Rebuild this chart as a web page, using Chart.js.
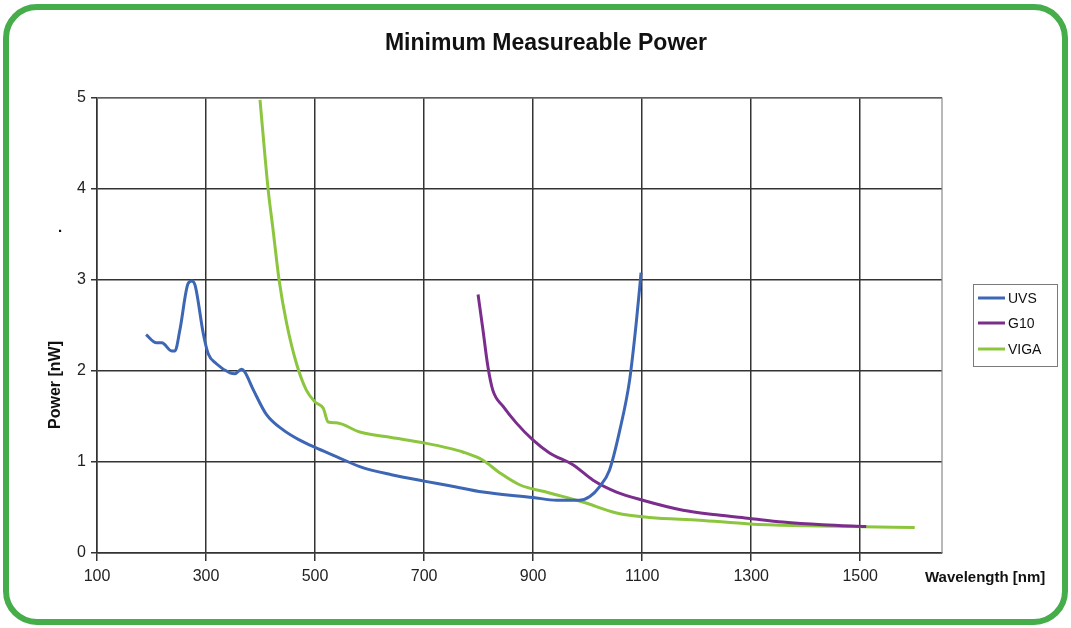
<!DOCTYPE html>
<html>
<head>
<meta charset="utf-8">
<script src="https://cdn.jsdelivr.net/npm/chart.js@4/dist/chart.umd.min.js"></script>
<style>
  html, body { margin: 0; padding: 0; background: #ffffff; }
  #wrap { position: relative; width: 1071px; height: 628px; }
  #c { position: absolute; left: 0; top: 0; }
  #frame { position: absolute; left: 3px; top: 4px; width: 1053px; height: 609px;
           border: 6px solid #45ad4a; border-radius: 34px; pointer-events: none; }
</style>
</head>
<body>
<div id="wrap">
  <canvas id="c" width="1071" height="628"></canvas>
  <div id="frame"></div>
</div>
<script>
// ---- data ----
const seriesNames = ["UVS", "G10", "VIGA"];
const xTicks = [100, 300, 500, 700, 900, 1100, 1300, 1500];
const yTicks = [0, 1, 2, 3, 4, 5];

const uvsX = [190, 209, 219, 237, 243, 252, 267, 274, 280, 295, 304, 319, 344, 353, 365, 371, 387, 411, 442, 472, 500, 539, 582, 640, 700, 747, 808, 900, 943, 985, 1004, 1022, 1040, 1059, 1077, 1089, 1098];
const uvsY = [2.40, 2.31, 2.31, 2.22, 2.22, 2.45, 2.96, 2.99, 2.94, 2.41, 2.19, 2.08, 1.98, 1.97, 2.02, 1.99, 1.79, 1.52, 1.35, 1.24, 1.16, 1.06, 0.95, 0.86, 0.79, 0.74, 0.67, 0.61, 0.58, 0.58, 0.62, 0.73, 0.91, 1.35, 1.90, 2.52, 3.08];

const g10X = [799, 808, 817, 826, 845, 869, 900, 930, 973, 1010, 1053, 1101, 1175, 1236, 1297, 1358, 1431, 1511];
const g10Y = [2.84, 2.45, 2.05, 1.79, 1.61, 1.43, 1.24, 1.10, 0.97, 0.80, 0.67, 0.58, 0.47, 0.42, 0.38, 0.34, 0.31, 0.29];

const vigaX = [399, 414, 423, 434, 448, 466, 484, 500, 515, 524, 539, 582, 640, 700, 747, 771, 808, 839, 875, 930, 991, 1053, 1114, 1205, 1297, 1400, 1480, 1600];
const vigaY = [4.98, 3.99, 3.55, 3.00, 2.52, 2.08, 1.79, 1.66, 1.59, 1.44, 1.43, 1.33, 1.27, 1.21, 1.15, 1.11, 1.02, 0.88, 0.75, 0.66, 0.56, 0.44, 0.39, 0.36, 0.32, 0.30, 0.29, 0.28];

const seriesColors = ["#3d66b4", "#7b2d8e", "#8cc63f"];

function pts(xs, ys) { return xs.map((x, i) => ({ x: x, y: ys[i] })); }

const FONT = "'Liberation Sans', Arial, sans-serif";

const decor = {
  id: "decor",
  afterDraw(chart) {
    const ctx = chart.ctx;
    const a = chart.chartArea;
    ctx.save();
    // right/top frame of plot area
    ctx.strokeStyle = "#8a8a8a";
    ctx.lineWidth = 1.2;
    ctx.beginPath();
    ctx.moveTo(a.left, a.top);
    ctx.lineTo(a.right, a.top);
    ctx.lineTo(a.right, a.bottom);
    ctx.stroke();

    // title
    ctx.fillStyle = "#111";
    ctx.font = "bold 23px " + FONT;
    ctx.textAlign = "center";
    ctx.textBaseline = "middle";
    ctx.fillText("Minimum Measureable Power", 546, 44);

    // y axis title
    ctx.save();
    ctx.translate(56, 385);
    ctx.rotate(-Math.PI / 2);
    ctx.font = "bold 16px " + FONT;
    ctx.fillText("Power [nW]", 0, 0);
    ctx.restore();
    ctx.font = "bold 15px " + FONT;
    ctx.fillText(".", 60, 228);

    // x axis title
    ctx.font = "bold 15px " + FONT;
    ctx.textAlign = "left";
    ctx.fillText("Wavelength [nm]", 925, 578);

    // legend
    ctx.strokeStyle = "#7a7a7a";
    ctx.lineWidth = 1;
    ctx.strokeRect(973.5, 284.5, 84, 82);
    ctx.font = "14px " + FONT;
    ctx.textAlign = "left";
    const ys = [298, 323, 349];
    seriesNames.forEach((n, i) => {
      ctx.strokeStyle = seriesColors[i];
      ctx.lineWidth = 3;
      ctx.beginPath();
      ctx.moveTo(978, ys[i]);
      ctx.lineTo(1005, ys[i]);
      ctx.stroke();
      ctx.fillStyle = "#111";
      ctx.fillText(n, 1008, ys[i] + 1);
    });
    ctx.restore();
  }
};

new Chart(document.getElementById("c"), {
  type: "line",
  data: {
    datasets: [
      { label: seriesNames[0], data: pts(uvsX, uvsY), borderColor: seriesColors[0] },
      { label: seriesNames[1], data: pts(g10X, g10Y), borderColor: seriesColors[1] },
      { label: seriesNames[2], data: pts(vigaX, vigaY), borderColor: seriesColors[2] }
    ]
  },
  options: {
    responsive: false,
    animation: false,
    layout: { padding: { left: 0, top: 98, right: 129, bottom: 0 } },
    elements: {
      point: { radius: 0 },
      line: { borderWidth: 3, cubicInterpolationMode: "monotone", fill: false }
    },
    plugins: { legend: { display: false }, title: { display: false }, tooltip: { enabled: false } },
    scales: {
      x: {
        type: "linear",
        min: 100,
        max: 1650,
        afterBuildTicks(scale) { scale.ticks = xTicks.map(v => ({ value: v })); },
        afterFit(scale) { scale.height = 75; },
        grid: { color: "#333", lineWidth: 1.5, tickLength: 8, drawTicks: true },
        border: { color: "#333", width: 1.5 },
        ticks: { color: "#222", font: { family: FONT, size: 16 }, padding: 6, maxRotation: 0,
                 callback: (v) => String(v) }
      },
      y: {
        type: "linear",
        min: 0,
        max: 5,
        afterBuildTicks(scale) { scale.ticks = yTicks.map(v => ({ value: v })); },
        afterFit(scale) { scale.width = 97; },
        grid: { color: "#333", lineWidth: 1.5, tickLength: 6, drawTicks: true },
        border: { color: "#333", width: 1.5 },
        ticks: { color: "#222", font: { family: FONT, size: 16 }, padding: 5,
                 callback: (v) => String(v) }
      }
    }
  },
  plugins: [decor]
});
</script>
</body>
</html>
